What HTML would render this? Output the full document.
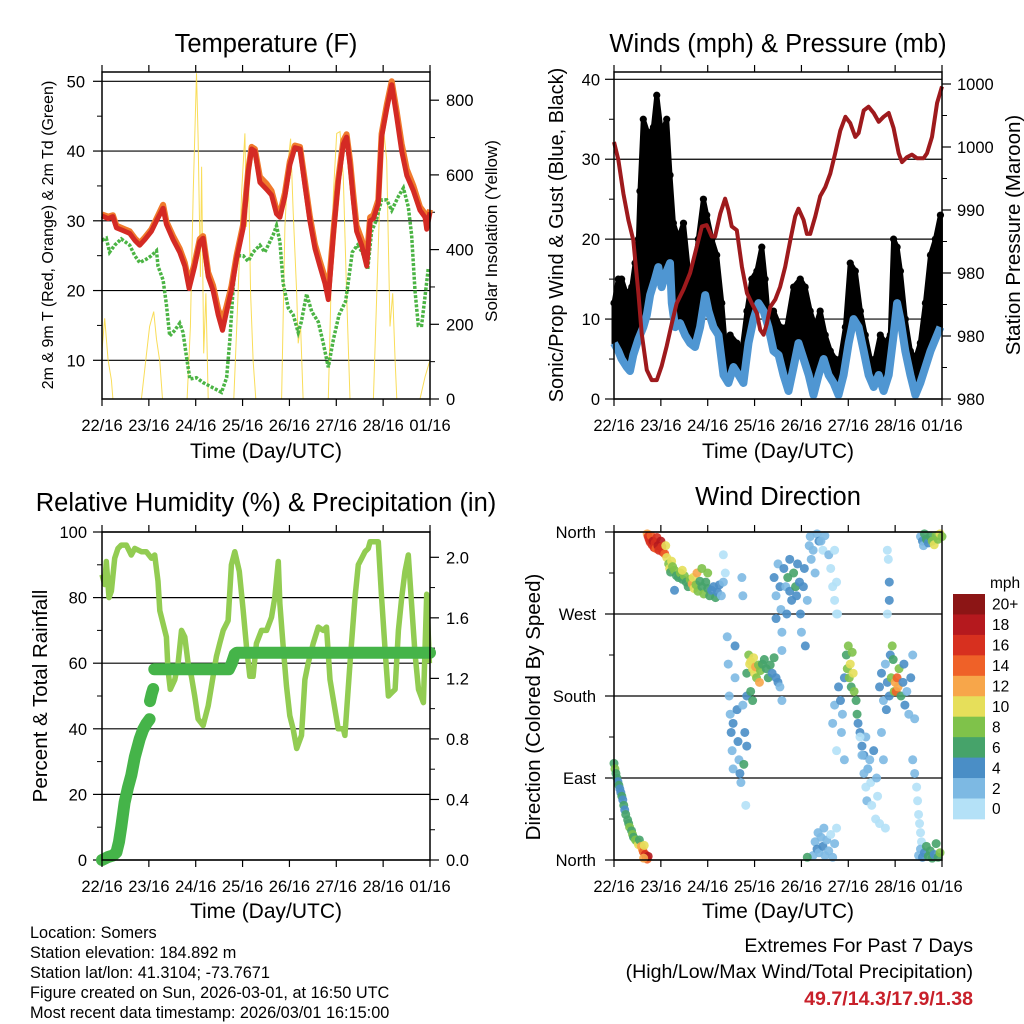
<!DOCTYPE html>
<html><head><meta charset="utf-8"><style>
html,body{margin:0;padding:0;background:#fff;}
svg{display:block;font-family:"Liberation Sans",Arial,sans-serif;}
</style></head><body>
<svg id="chart" xmlns="http://www.w3.org/2000/svg" width="1024" height="1024" viewBox="0 0 1024 1024">
<rect width="1024" height="1024" fill="#fff"/>
<g id="g1"></g>
<g id="g2"></g>
<g id="g3"></g>
<g id="g4"></g>
<g id="g5"></g>
<text x="266" y="52" font-size="25.5" text-anchor="middle">Temperature (F)</text>
<text x="778" y="52" font-size="25.5" text-anchor="middle">Winds (mph) &amp; Pressure (mb)</text>
<text x="266" y="511" font-size="25.5" text-anchor="middle">Relative Humidity (%) &amp; Precipitation (in)</text>
<text x="778" y="505" font-size="25.5" text-anchor="middle">Wind Direction</text>
<text x="266" y="458" font-size="21" text-anchor="middle">Time (Day/UTC)</text>
<text x="778" y="458" font-size="21" text-anchor="middle">Time (Day/UTC)</text>
<text x="266" y="918" font-size="21" text-anchor="middle">Time (Day/UTC)</text>
<text x="778" y="918" font-size="21" text-anchor="middle">Time (Day/UTC)</text>
<text transform="translate(53,235) rotate(-90)" font-size="16" text-anchor="middle">2m &amp; 9m T (Red, Orange) &amp; 2m Td (Green)</text>
<text transform="translate(497,231) rotate(-90)" font-size="17" text-anchor="middle">Solar Insolation (Yellow)</text>
<text transform="translate(563,235) rotate(-90)" font-size="20" text-anchor="middle">Sonic/Prop Wind &amp; Gust (Blue, Black)</text>
<text transform="translate(1020,235) rotate(-90)" font-size="20.5" text-anchor="middle">Station Pressure (Maroon)</text>
<text transform="translate(47,696) rotate(-90)" font-size="20.5" text-anchor="middle">Percent &amp; Total Rainfall</text>
<text transform="translate(540,707) rotate(-90)" font-size="20.5" text-anchor="middle">Direction (Colored By Speed)</text>
<g font-size="16.3">
<text x="30" y="938">Location: Somers</text>
<text x="30" y="958">Station elevation: 184.892 m</text>
<text x="30" y="978">Station lat/lon: 41.3104; -73.7671</text>
<text x="30" y="998">Figure created on Sun, 2026-03-01, at 16:50 UTC</text>
<text x="30" y="1018">Most recent data timestamp: 2026/03/01 16:15:00</text>
</g>
<text x="973" y="952" font-size="19.6" text-anchor="end">Extremes For Past 7 Days</text>
<text x="973" y="978" font-size="19.6" text-anchor="end">(High/Low/Max Wind/Total Precipitation)</text>
<text x="973" y="1005" font-size="19.6" font-weight="bold" fill="#c8202a" text-anchor="end">49.7/14.3/17.9/1.38</text>
</svg>
<script>
const dayLabels = ["22/16","23/16","24/16","25/16","26/16","27/16","28/16","01/16"];
// Temperature (F)
const tHours = [0,3.1,5.6,7.4,10.8,14.2,16.8,19.3,21.9,25.3,27.9,31.3,33,36.4,39.8,42.4,44.6,47.5,50.1,51.8,54.4,56.9,59.5,61.7,63.8,66.3,68.9,72.3,74.9,76.6,78.3,80.9,84.3,86.8,89.4,91.1,93.7,96.2,98.8,101.4,104,106.5,109.1,111.6,114.2,115.9,118.5,121,123.6,125.3,127,128.7,130.4,133,135.6,137.3,139,141.5,143.2,145.8,148.4,150.9,153.5,156.1,159.5,162.9,165.5,166.3,168];
const temp2m = [30.7,30.3,30.6,29,28.6,28.2,27.2,26.5,27.3,28.5,30,31.8,29.5,27.3,25.5,23.5,20.3,23.5,27,27.5,22,20,16.5,14.3,17,20,24.5,29,37,40.3,40,35.5,34.5,33.7,31,30.5,33.5,38,40.5,40.3,35,30,26,23.5,21,18.7,28,35.5,41,42,38,33,28.5,26.5,23.5,30,30.3,32.5,42,46,49.5,45,40,36.5,34.3,31.5,30.5,28.8,31.2];
const temp9m = [30.9,30.6,30.8,29.3,28.9,28.5,27.5,26.8,27.6,28.8,30.3,32.3,29.9,27.8,26,24,21,24,27.4,27.8,22.6,20.7,17.3,15.6,17.8,20.6,25,29.5,37.3,40.6,40.3,36.3,35.3,34.3,31.6,31,34,38.5,40.8,40.6,35.6,30.6,26.6,24.2,21.8,19.8,28.5,36,41.5,42.4,38.7,33.8,29.3,27.3,24.5,30.5,30.8,33,42.5,46.6,50,45.8,41,37.4,35,32,31,29.5,31.6];
const tdHours = [0,2.2,3.9,6.5,9.9,14.2,16.8,19.3,22.7,25.3,27.9,28.7,31.3,33,34.7,37.3,39.8,41.5,43.3,45,48.4,51.8,55.2,58.6,61.2,63.8,65.5,67.2,68.9,72.3,74.9,77.4,80.9,83.4,86,87.7,89.4,91.1,92.8,95.4,98,100.5,102.1,104.8,107.4,110.8,113.3,115.9,118.5,121.4,124.8,126.5,128.2,130.8,133.3,136.1,138.1,140.4,143.2,145.8,148.4,151.8,154.4,156.9,158.6,160.3,162,163.7,165.4,167.2];
const dewpoint = [27.2,27.5,25.5,26.5,27.4,26.5,25,24,24.5,25,25.7,23.5,21.5,18,13.5,14.3,15.3,14,10.5,7.3,7.5,6.8,6.3,5.8,5.4,7.5,13,20.5,25,25,24.2,25.5,26.5,25.5,27,28,29.3,27,21,17.5,16.5,14,15.5,19.5,17,15.5,12.5,9,13,16.5,18.5,22,25.5,26.5,25.5,23,28.5,30,33,33,31.5,33.5,34.7,32,28,20,15,15,19,23.3];
const solarHours = [0,1.4,3.1,4.8,5.6,20.2,24.4,26.5,27.9,29.6,31,43.6,45.3,46.7,48.4,49.2,50.4,51,52.1,53.2,54.4,67.5,69.7,71.5,73.2,74,74.9,76.1,77.4,78.8,92,93.7,95.4,96.6,97.9,99.7,100.5,101.7,103,115.9,118.5,120.2,121.9,123.6,125.3,127,139,142.4,144.1,145.8,147.5,148.9,150.1,151,162.9,165.5,168];
const solar = [130,216,104,51,0,0,194,234,160,100,0,0,194,551,872,700,327,622,122,283,0,0,283,551,711,461,640,283,104,0,0,461,640,697,506,283,149,194,0,0,551,711,716,595,283,0,0,551,729,640,194,283,104,0,0,60,104];
const tempTicks = [10,20,30,40,50];
const solarTicks = [0,200,400,600,800];
// Winds (mph) & pressure
const sustHours = [0,2.2,3.9,6.5,8.2,9.9,12.5,15,16.8,18.5,21,22.7,24.4,27,28.7,29.6,31.3,33.8,36.4,39,41.5,44.1,46.7,48.4,50.9,53.5,56.1,58.6,61.2,63.8,66.3,68.9,71.5,74,76.6,79.1,81.7,84.3,86.8,89.4,92,94.5,97.1,99.7,102.2,104.8,107.4,109.9,112.5,115,117.6,120.2,122.7,125.3,127.9,130.4,133,135.6,138.1,140.7,143.2,145,146.7,149.2,151.8,154.4,156.9,159.5,162.1,164.6,167.2];
const sustained = [7,6,5,4,3.5,5.5,7.5,9,10.5,13,15,16.5,14,16,17,12,9,9.5,8,7,6.5,9,13,11,9,8,3,2,4,3,2,7,10,12,11,9,6,5.5,3,1,4,7,5,3,0.5,3,5,3,2,0.5,3,7,10,9,6,3,1.5,3,1,3,8,12,10,6,3,0.5,2,4,6,7.5,9];
const gustHours = [0,2.2,3.9,6.5,9.1,10.8,12.5,13.3,15,17.6,20.2,21.9,24.4,27,28.7,30.4,33,35.6,38.1,40.7,43.2,45.8,47.5,50.1,52.6,55.2,56.9,59.5,62.9,65.5,68.1,70.6,73.2,75.7,77.4,79.1,81.7,85.1,88.5,92,95.4,97.9,100.5,103.1,105.6,108.2,110.8,113.3,115.9,118.5,121,123.6,126.2,128.7,131.3,133.8,136.4,139,141.5,143.2,145,146.7,149.2,151.8,154.4,156.9,159.5,162.1,164.6,167.2];
const gust = [12,15,15,13,14,17,20,26,35,33,34,38,33,35,28,22,20,22,16,15,20,25,23,20,18,12,7,8,7,6,11,15,16,19,15,10,11,9,9,14,15,14,11,9,11,8,6,5,5,9,17,16,11,8,5,5,8,7,8,20,19,16,10,6,5,7,12,18,20,23];
const presHours = [0,2.2,4.8,7.4,9.9,12.5,14.2,16.8,19.3,21.9,24.4,27,29.6,32.1,35.6,39,42.4,45,47.5,50.1,51.8,54.4,56.9,58.6,60.3,62.9,65.5,68.1,70.6,73.2,74.9,76.6,78.3,80,82.6,85.1,87.7,90.3,92.8,94.5,97.1,98.8,100.5,103.1,105.6,108.2,110.8,113.3,115.9,118.5,121,123.6,125.3,127.9,130.4,133,135.6,138.1,140.7,143.2,145.8,147.5,150.1,152.6,155.2,158.6,160.3,162.9,165.5,168];
const pressure = [996.4,995,992.3,990.2,988.6,984.4,981.2,978.3,977.5,977.5,978.6,980.2,982,983.6,984.7,986,988.1,989.7,989.8,988.9,988.9,990.7,991.9,991,989.7,989.4,986.5,984.4,983.6,982.8,981.5,981.1,982,983.3,983.9,984.9,986.5,988.6,990.5,991.1,990.2,989.1,989.1,990.5,992.1,992.8,993.9,995.5,997.3,998.4,997.9,996.8,997.1,998.9,999.2,998.7,998,998.4,998.7,997.5,995.5,994.8,995.2,995.4,995.1,995.1,995.5,996.8,999.5,1000.8];
const windTicks = [0,10,20,30,40];
const presTicks = [976,981,986,991,996,1001];
const presTickLabels = ["980","980","980","990","1000","1000"];
// Relative humidity & precipitation
const rhHours = [0,1.4,2.2,3.6,4.8,6.5,8.2,9.9,12.5,15,16.8,20.2,22.7,25.3,27,28.7,29.6,31.3,33,33.8,35,37.3,39,40.7,42.4,44.1,45.8,47.5,49.2,51.8,54.4,56.9,58.6,60.3,62.1,64.6,66.3,68,70.3,72.3,74,75.7,77.4,79.1,81.7,84.3,86.8,88.5,90.3,91.1,92.8,94.5,96.2,97.9,99.7,102.2,103.9,105.6,108.2,110.8,113.3,115,116.8,119.3,121,123.6,124.4,127,129.6,131.3,133,134.7,136.4,137.3,141.5,143.2,145,146.7,148.4,150.1,151.8,153.5,155.2,156.9,158.6,160.3,162.1,164.6,166.3,167.7];
const rh = [87,84,91,80,82,92,95,96,96,93,95,94,94,92,93,85,76,72,68,58,52,55,60,70,68,60,56,50,43,41,47,56,62,66,70,73,90,94,88,76,65,56,56,66,70,70,74,80,91,78,65,53,44,40,34,38,55,60,66,71,70,71,55,46,40,40,38,60,80,90,92,94,95,97,97,80,64,50,51,52,70,80,88,93,78,63,52,48,81,60];
const precipHours = [0,3.1,5.6,7.4,8.7,9.9,11.6,13.3,15,16.8,19.3,21,22.7,24.4,null,24.6,25.5,26.2,null,26.8,45,65,66.5,68,69,120,168];
const precip = [0,0.02,0.03,0.05,0.12,0.22,0.38,0.48,0.56,0.68,0.8,0.86,0.9,0.93,null,1.05,1.1,1.13,null,1.26,1.26,1.26,1.3,1.36,1.37,1.37,1.37];
const rhTicks = [0,20,40,60,80,100];
const precipTicks = [0,0.4,0.8,1.2,1.6,2.0];
const precipTickLabels = ["0.0","0.4","0.8","1.2","1.6","2.0"];
// Wind direction
const dirHours = [0,0.5,1,1.5,2,2.5,3,3.5,4,4.5,5,5.5,6,7,7.5,8,9,9.5,10,11,12,12.5,13,14,14.5,15,15.5,16,16.5,17,17.5,15.2,
17,17.5,18,18.5,19,19.5,20,20.5,21,21.5,22,22.5,23,24,24.5,25,26,26.5,27,28,28.5,29,29.5,30,31,32,33,34,35,36,37,38,39,40,40.5,41,42,42.5,43,44,45,46,47,48,49,50,51,52,53,54,55,56,31,35,45,48,
56,57,58,58.5,59,59.5,60,60.5,61,61,62,62,63,63.5,64,64.5,65,65.5,66,66,67,67.5,68,68,66.5,
68,69,69.5,70,71,71.5,72,72.5,73,74,74.5,75,76,77,78,79,80,81,82,83,84,85,86,86,70,71,
82,83,83,84,85,85.5,86,87,88,88.5,89,90,90,91,92,93,93.5,94,95,95.5,96,97,97.5,98,99,100,100.5,101,102,103,104,105,
102,103,104,104.5,105,106,107,107.5,108,109,110,111,112,113,114,99,
106,107,108,110,111,112,113,114,
112,113,114,115,116,116.5,117,118,118,119,119.5,120,120.5,121,121.5,122,122.5,123,124,124.5,125,126,127,128,129,130,
126,127,128,129,129.5,130,131,131.5,132,133,134,134.5,135,136,137,138,139,
136,137,138,139,139.5,140,141,141.5,142,142.5,143,143.5,144,144.5,145,145.5,146,147,148,148.5,149,150,151,152,153,154,
153,154,155,155.5,156,156.5,157,157.5,
157,158,158.5,159,160,161,162,163,164,165,166,167,168,
156,157,158,159,160,161,162,163,164,165,166,167,
140,140.5,141,141,140,113,114,114.5];
const dirDeg = [106,100,95,90,86,82,78,74,70,66,60,55,50,44,40,36,32,28,25,22,20,17,22,15,12,9,16,6,3,1,4,2,
358,355,352,349,356,346,350,343,348,342,354,345,340,350,344,338,336,345,332,325,320,316,328,322,318,312,310,315,308,312,305,300,308,303,310,298,302,315,295,306,300,292,305,298,290,296,300,288,294,302,290,305,296,318,320,315,
335,315,245,215,180,160,140,120,100,150,200,235,165,130,110,95,85,310,290,170,140,60,180,125,105,
205,225,215,218,210,222,205,212,200,214,195,208,215,220,210,200,214,205,222,200,195,190,175,230,185,175,
310,290,265,325,300,275,250,320,300,270,310,330,295,285,315,300,290,325,305,270,250,300,320,235,285,345,355,330,340,315,358,350,
5,20,12,30,8,25,15,35,5,22,10,28,3,18,35,3,
350,340,356,335,320,300,285,270,
150,170,120,190,175,140,160,200,110,225,210,235,200,215,190,228,205,185,175,160,150,140,125,115,135,100,
135,115,95,80,65,100,110,85,60,120,45,90,70,40,140,110,35,
190,205,175,215,165,195,180,225,200,235,220,185,195,185,200,190,210,180,195,215,170,185,160,200,225,155,
110,95,80,65,50,40,30,20,
355,350,345,358,352,348,355,350,346,356,352,358,355,
5,12,3,8,15,4,10,2,6,18,3,8,
340,330,285,305,270,340,305,270];
const dirSpeed = [7,9,7,6,5,6,5,4,6,5,6,5,7,6,7,8,6,8,7,9,8,10,7,12,13,14,11,16,17,15,18,12,
13,16,17,16,15,17,18,17,16,15,17,18,16,19,17,16,15,11,10,9,10,7,10,9,8,7,6,8,7,9,6,7,9,12,11,10,9,13,8,6,7,8,6,7,6,5,4,6,5,4,3,2,5,10,9,8,
1,1,2,3,3,2,4,3,2,4,3,4,4,5,3,4,2,2,3,3,4,1,5,4,6,
6,8,10,10,11,10,10,12,9,8,12,9,7,6,6,7,6,5,6,5,4,3,3,2,7,6,
4,3,4,3,4,2,3,4,3,5,6,5,4,4,6,6,5,5,4,4,3,4,5,4,2,2,3,3,2,2,3,4,
2,3,4,3,2,3,4,2,3,2,3,1,2,2,1,6,
2,1,2,2,1,1,1,1,
2,3,1,4,4,3,3,4,2,7,8,8,9,10,7,8,10,8,6,7,4,4,4,4,3,2,
1,2,2,1,2,3,2,1,1,4,1,2,1,1,2,2,1,
4,4,3,3,4,5,4,4,8,8,7,8,13,15,14,12,9,6,5,4,4,3,3,4,3,2,
2,3,1,1,1,1,1,1,
3,4,3,6,6,5,7,9,10,8,9,10,8,
3,3,5,5,6,6,7,6,5,7,6,8,
1,1,4,4,1,1,1,1];
const dirTicks = [0,90,180,270,360];
const dirTickLabels = ["North","East","South","West","North"];
const speedColors = ["#b4e1f7","#7db9e3","#4a8ec6","#46a36a","#7fc24a","#e6df5a","#f7a64a","#ef6128","#d7301f","#b5191e","#8c1515"];
const speedLabels = ["0","2","4","6","8","10","12","14","16","18","20+"];

const NS = "http://www.w3.org/2000/svg";
const TF = 16.5;
function el(tag, attrs, parent, txt){
  const e = document.createElementNS(NS, tag);
  for (const k in attrs) e.setAttribute(k, attrs[k]);
  if (txt !== undefined) e.textContent = txt;
  parent.appendChild(e);
  return e;
}
function mk(L,R,T,B){
  return {x:h=>L+h/168*(R-L), L,R,T,B};
}
function yScale(B,vB,T,vT){return v=>B+(v-vB)*(T-B)/(vT-vB);}
function pathD(xs, ys, fx, fy){
  let d="", pen=false;
  for(let i=0;i<xs.length;i++){
    if(xs[i]===null||ys[i]===null){pen=false;continue;}
    d += (pen?"L":"M")+fx(xs[i]).toFixed(1)+","+fy(ys[i]).toFixed(1);
    pen=true;
  }
  return d;
}
function frame(g,P,name){
  const r = el("rect",{x:P.L,y:P.T,width:P.R-P.L,height:P.B-P.T,fill:"none",stroke:"#000","stroke-width":1.5},g);
  
  
}
function xAxis(g,P,name){
  for(let i=0;i<dayLabels.length;i++){
    const x = P.L + i*(P.R-P.L)/7;
    const t = el("line",{x1:x,x2:x,y1:P.B,y2:P.B+7,stroke:"#000","stroke-width":1.2},g);
    
    
    el("line",{x1:x,x2:x,y1:P.T,y2:P.T-7,stroke:"#000","stroke-width":1.2},g);
    const lb = el("text",{x:x,y:P.B+32,"font-size":TF,"text-anchor":"middle"},g,dayLabels[i]);
    
    
  }
}
function yAxis(g,P,ticks,labels,fy,side,grid,lx,name){
  ticks.forEach((v,i)=>{
    const y = fy(v);
    if(grid){
      const gl = el("line",{x1:P.L,x2:P.R,y1:y,y2:y,stroke:"#000","stroke-width":1.2},g);
      
      
    }
    const x0 = side==="left"?P.L:P.R, x1 = side==="left"?P.L-9:P.R+9;
    el("line",{x1:x0,x2:x1,y1:y,y2:y,stroke:"#000","stroke-width":1.2},g);
    const lb = el("text",{x:lx,y:y+6,"font-size":TF,"text-anchor":side==="left"?"end":"start"},g,labels[i]);
    
    
  });
  for(let i=0;i<ticks.length-1;i++){
    const y=(fy(ticks[i])+fy(ticks[i+1]))/2;
    const x0 = side==="left"?P.L:P.R, x1 = side==="left"?P.L-5:P.R+5;
    el("line",{x1:x0,x2:x1,y1:y,y2:y,stroke:"#000","stroke-width":1},g);
  }
}

// ---------- Panel 1 ----------
(function(){
  const g = document.getElementById("g1");
  const P = mk(102,430,72,399);
  const fy = yScale(360.3,10,81.3,50);
  const fs = yScale(399,0,100.2,800);
  yAxis(g,P,tempTicks,tempTicks.map(String),fy,"left",true,85,"temperature-y");
  yAxis(g,P,solarTicks,solarTicks.map(String),fs,"right",false,446,"solar-y");
  const s = el("path",{d:pathD(solarHours,solar,P.x,fs),fill:"none",stroke:"#f8d73c","stroke-width":1,"stroke-opacity":0.85},g);
  
  
  const td = el("path",{d:pathD(tdHours,dewpoint,P.x,fy),fill:"none",stroke:"#4bb444","stroke-width":3.5,"stroke-dasharray":"3 1.6"},g);
  
  
  const t9 = el("path",{d:pathD(tHours,temp9m,P.x,fy),fill:"none",stroke:"#f07a2c","stroke-width":6,"stroke-linejoin":"round"},g);
  
  
  const t2 = el("path",{d:pathD(tHours,temp2m,P.x,fy),fill:"none",stroke:"#d42a24","stroke-width":5,"stroke-linejoin":"round"},g);
  
  
  frame(g,P,"temperature");
  xAxis(g,P,"temperature");
})();

// ---------- Panel 2 ----------
(function(){
  const g = document.getElementById("g2");
  const P = mk(614,942,72,399);
  const fy = yScale(399,0,79.3,40);
  const fp = yScale(399,976,84,1001);
  yAxis(g,P,windTicks,windTicks.map(String),fy,"left",true,600,"wind-y");
  yAxis(g,P,presTicks,presTickLabels,fp,"right",false,957,"pressure-y");
  let d = pathD(gustHours,gust,P.x,fy);
  for(let i=sustHours.length-1;i>=0;i--) d += "L"+P.x(sustHours[i]).toFixed(1)+","+fy(sustained[i]).toFixed(1);
  const area = el("path",{d:d+"Z",fill:"#000",stroke:"#000","stroke-width":5,"stroke-linejoin":"round"},g);
  
  
  gustHours.forEach((h,i)=>{
    const c = el("circle",{cx:P.x(h),cy:fy(gust[i]),r:3.6,fill:"#000"},g);
    
    
  });
  const b = el("path",{d:pathD(sustHours,sustained,P.x,fy),fill:"none",stroke:"#4f96d2","stroke-width":8,"stroke-linejoin":"round"},g);
  
  
  const p = el("path",{d:pathD(presHours,pressure,P.x,fp),fill:"none",stroke:"#9e1a1d","stroke-width":4,"stroke-linejoin":"round"},g);
  
  
  frame(g,P,"winds");
  xAxis(g,P,"winds");
})();

// ---------- Panel 3 ----------
(function(){
  const g = document.getElementById("g3");
  const P = mk(102,430,532,860);
  const fy = yScale(860,0,532,100);
  const fp = yScale(860,0,557.3,2.0);
  yAxis(g,P,rhTicks,rhTicks.map(String),fy,"left",true,87,"humidity-y");
  yAxis(g,P,precipTicks,precipTickLabels,fp,"right",false,446,"precip-y");
  const r = el("path",{d:pathD(rhHours,rh,P.x,fy),fill:"none",stroke:"#92cc52","stroke-width":5.5,"stroke-linejoin":"round"},g);
  
  
  const pr = el("path",{d:pathD(precipHours,precip,P.x,fp),fill:"none",stroke:"#45b449","stroke-width":12,"stroke-linejoin":"round","stroke-linecap":"round"},g);
  
  
  frame(g,P,"humidity");
  xAxis(g,P,"humidity");
})();

// ---------- Panel 4 ----------
(function(){
  const g = document.getElementById("g4");
  const P = mk(614,942,532,860);
  const fy = yScale(860,0,532,360);
  yAxis(g,P,dirTicks,dirTickLabels,fy,"left",true,596,"direction-y");
  dirHours.forEach((h,i)=>{
    const idx = Math.min(10,Math.floor(dirSpeed[i]/2));
    const c = el("circle",{cx:P.x(h),cy:fy(dirDeg[i]),r:4.5,fill:speedColors[idx],"fill-opacity":0.9},g);
    
    
  });
  frame(g,P,"direction");
  xAxis(g,P,"direction");
  const cb = document.getElementById("g5");
  const top=594, bh=20.45;
  const t = el("text",{x:990,y:588,"font-size":15.5},cb,"mph");
  
  
  for(let k=0;k<speedColors.length;k++){
    const j = speedColors.length-1-k;
    const r = el("rect",{x:953,y:top+k*bh,width:32,height:bh+0.4,fill:speedColors[j]},cb);
    
    
    const lb = el("text",{x:992,y:top+k*bh+bh/2+5.5,"font-size":15.5},cb,speedLabels[j]);
    
    
  }
})();
</script>
</body></html>
